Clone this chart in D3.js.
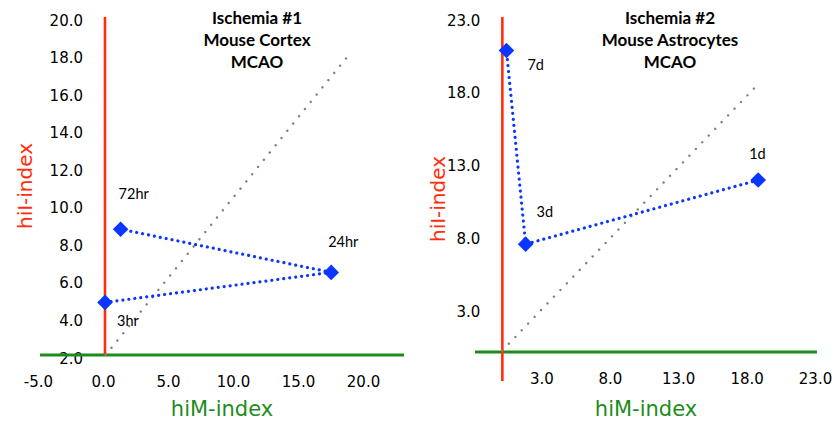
<!DOCTYPE html>
<html>
<head>
<meta charset="utf-8">
<script src="https://cdn.jsdelivr.net/npm/d3@7"></script>
<style>
  body { margin: 0; background: #fff; }
  svg { display: block; }
</style>
</head>
<body>
<script>
// Ischemia #1 — mouse cortex after MCAO (time course 3hr → 24hr → 72hr)
const cortexTimes = ["3hr", "24hr", "72hr"];
const cortexHiM = [0.0, 17.4, 1.2];
const cortexHiI = [4.8, 6.4, 8.7];
const cortexTitle = ["Ischemia #1", "Mouse Cortex", "MCAO"];
const cortexXTicks = [-5, 0, 5, 10, 15, 20];
const cortexYTicks = [2, 4, 6, 8, 10, 12, 14, 16, 18, 20];
const cortexRefHiM = [0.05, 18.6];
const cortexRefHiI = [2.0, 17.85];

// Ischemia #2 — mouse astrocytes after MCAO (time course 1d → 3d → 7d)
const astroTimes = ["1d", "3d", "7d"];
const astroHiM = [18.7, 1.7, 0.3];
const astroHiI = [11.8, 7.4, 20.7];
const astroTitle = ["Ischemia #2", "Mouse Astrocytes", "MCAO"];
const astroXTicks = [3, 8, 13, 18, 23];
const astroYTicks = [3, 8, 13, 18, 23];
const astroRefHiM = [0.0, 18.4];
const astroRefHiI = [0.1, 18.1];

const RED = "#ff2d0d", GREEN = "#1c8c1c", BLUE = "#0a36ff", GREY = "#7f7f7f";

const svg = d3.select("body").append("svg")
  .attr("width", 836).attr("height", 425);

// where each time-point label sits relative to its marker (dx, dy to baseline start)
const labelOffset = {
  "3hr": [12, 24], "24hr": [-3, -25], "72hr": [-2, -30],
  "7d": [21, 20], "3d": [11, -27], "1d": [-9, -21]
};

function panel(cfg) {
  const x = d3.scaleLinear().domain(cfg.xDomain).range(cfg.xRange);
  const y = d3.scaleLinear().domain(cfg.yDomain).range(cfg.yRange);
  const g = svg.append("g");
  const fmt = d => d.toFixed(1);
  const x0 = x(cfg.yAxisAt), y0 = y(cfg.xAxisAt);

  // tick labels
  const xAxis = g.append("g")
    .attr("transform", `translate(-2,${y0})`)
    .call(d3.axisBottom(x).tickValues(cfg.xTicks).tickFormat(fmt).tickSize(0).tickPadding(21));
  const yAxis = g.append("g")
    .attr("transform", `translate(${x0},3.2)`)
    .call(d3.axisLeft(y).tickValues(cfg.yTicks).tickFormat(fmt).tickSize(0).tickPadding(22));
  [xAxis, yAxis].forEach(a => {
    a.select(".domain").remove();
    a.selectAll("text")
      .attr("font-family", "DejaVu Sans").attr("font-size", 15).attr("fill", "#000");
  });

  // axis lines
  g.append("line")
    .attr("x1", cfg.xRange[0]).attr("x2", cfg.xRange[1])
    .attr("y1", y0).attr("y2", y0)
    .attr("stroke", GREEN).attr("stroke-width", 3);
  g.append("line")
    .attr("x1", x0).attr("x2", x0)
    .attr("y1", cfg.yRange[0]).attr("y2", cfg.yRange[1])
    .attr("stroke", RED).attr("stroke-width", 2.6);

  // reference diagonal
  g.append("line")
    .attr("x1", x(cfg.refM[0])).attr("y1", y(cfg.refI[0]))
    .attr("x2", x(cfg.refM[1])).attr("y2", y(cfg.refI[1]))
    .attr("stroke", GREY).attr("stroke-width", 2.4)
    .attr("stroke-linecap", "round").attr("stroke-dasharray", "0.01 9.3");

  // time course path
  const pts = cfg.times.map((t, i) => ({ t, m: cfg.hiM[i], v: cfg.hiI[i] }));
  g.append("path")
    .datum(pts)
    .attr("d", d3.line().x(d => x(d.m)).y(d => y(d.v)))
    .attr("fill", "none").attr("stroke", BLUE).attr("stroke-width", 3.2)
    .attr("stroke-linecap", "round").attr("stroke-dasharray", "0.01 6");

  g.selectAll(".pt").data(pts).join("path")
    .attr("transform", d => `translate(${x(d.m)},${y(d.v)})`)
    .attr("d", "M0,-7.8L7.8,0L0,7.8L-7.8,0Z")
    .attr("fill", BLUE);

  g.selectAll(".lbl").data(pts).join("text")
    .attr("x", d => x(d.m) + labelOffset[d.t][0])
    .attr("y", d => y(d.v) + labelOffset[d.t][1])
    .attr("font-family", "Lato").attr("font-size", 14.5).attr("fill", "#000")
    .text(d => d.t);

  // title
  g.append("text")
    .attr("text-anchor", "middle")
    .attr("font-family", "Lato").attr("font-weight", "bold").attr("font-size", 17)
    .selectAll("tspan").data(cfg.title).join("tspan")
    .attr("x", cfg.titleX).attr("y", (d, i) => 24 + i * 22.2)
    .text(d => d);

  // axis titles
  g.append("text")
    .attr("x", (cfg.xRange[0] + cfg.xRange[1]) / 2).attr("y", 416)
    .attr("text-anchor", "middle")
    .attr("font-family", "DejaVu Sans").attr("font-size", 21).attr("fill", GREEN)
    .text("hiM-index");
  g.append("text")
    .attr("transform", `translate(${cfg.yTitleX},${(cfg.yRange[0] + cfg.yRange[1]) / 2}) rotate(-90)`)
    .attr("text-anchor", "middle")
    .attr("font-family", "DejaVu Sans").attr("font-size", 20).attr("fill", RED)
    .text("hiI-index");
}

panel({
  xDomain: [-5, 23], xRange: [40, 404],
  yDomain: [2, 20], yRange: [355, 17],
  xAxisAt: 2, yAxisAt: 0,
  xTicks: cortexXTicks, yTicks: cortexYTicks,
  refM: cortexRefHiM, refI: cortexRefHiI,
  times: cortexTimes, hiM: cortexHiM, hiI: cortexHiI,
  title: cortexTitle, titleX: 257, yTitleX: 32
});

panel({
  xDomain: [-2, 23], xRange: [475, 817],
  yDomain: [-2, 23], yRange: [381, 17],
  xAxisAt: 0, yAxisAt: 0,
  xTicks: astroXTicks, yTicks: astroYTicks,
  refM: astroRefHiM, refI: astroRefHiI,
  times: astroTimes, hiM: astroHiM, hiI: astroHiI,
  title: astroTitle, titleX: 670, yTitleX: 445
});
</script>
</body>
</html>
